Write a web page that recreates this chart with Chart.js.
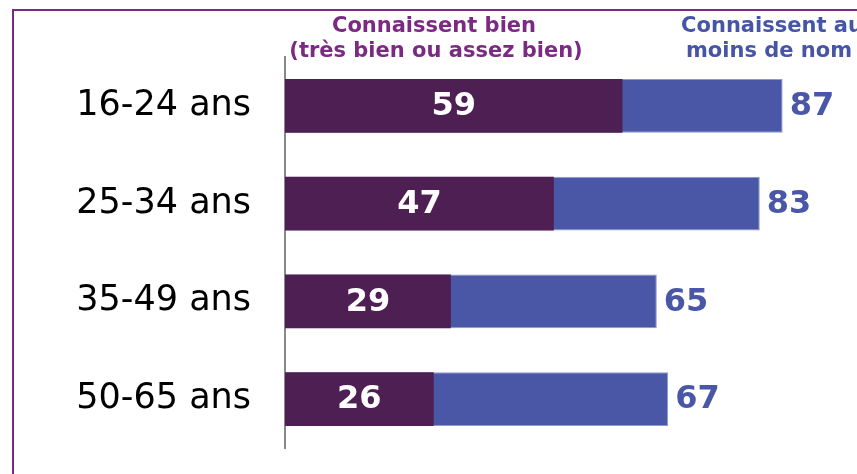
<!DOCTYPE html>
<html><head><meta charset="utf-8">
<script src="https://cdn.jsdelivr.net/npm/chart.js@4"></script>
<style>
html,body{margin:0;padding:0;background:#fff;}
#wrap{position:relative;width:857px;height:474px;overflow:hidden;}
#frame{position:absolute;left:12px;top:9px;width:900px;height:500px;border-left:2px solid #7B2A84;border-top:2px solid #7B2A84;}
canvas{position:absolute;left:0;top:0;}
</style></head>
<body>
<div id="wrap"><div id="frame"></div><canvas id="c" width="857" height="474"></canvas></div>
<script>
const categories = ["16-24 ans","25-34 ans","35-49 ans","50-65 ans"];
const connaissentBien = [59,47,29,26];
const connaissentNom = [87,83,65,67];
const headerBien = ["Connaissent bien","(très bien ou assez bien)"];
const headerNom = ["Connaissent au","moins de nom"];

const PURPLE = "#4E1F52", BLUE = "#4957A6", HEAD_P = "#7B2A84", HEAD_B = "#4655A5";

const labelPlugin = {
  id: "labels",
  afterDatasetsDraw(chart) {
    const ctx = chart.ctx;
    ctx.save();
    ctx.font = "bold 32px 'DejaVu Sans'";
    ctx.textBaseline = "middle";
    const m0 = chart.getDatasetMeta(0), m1 = chart.getDatasetMeta(1);
    m0.data.forEach((b, i) => {
      ctx.fillStyle = "#fff"; ctx.textAlign = "center";
      ctx.fillText(String(connaissentBien[i]), (b.x + b.base) / 2, b.y + 1);
    });
    m1.data.forEach((b, i) => {
      ctx.fillStyle = BLUE; ctx.textAlign = "left";
      ctx.fillText(String(connaissentNom[i]), b.x + 7, b.y + 1);
    });
    // headers
    ctx.font = "bold 21px 'DejaVu Sans'";
    ctx.textAlign = "center";
    ctx.fillStyle = HEAD_P;
    ctx.fillText(headerBien[0], 434, 27);
    ctx.fillText(headerBien[1], 436, 52);
    ctx.fillStyle = HEAD_B;
    ctx.fillText(headerNom[0], 772, 27);
    ctx.fillText(headerNom[1], 769, 52);
    ctx.restore();
  }
};

new Chart(document.getElementById("c"), {
  type: "bar",
  data: {
    labels: categories,
    datasets: [
      { label: headerBien.join(" "), data: connaissentBien, backgroundColor: PURPLE, grouped: false, barPercentage: 0.55, categoryPercentage: 1 },
      { label: headerNom.join(" "), data: connaissentNom, backgroundColor: BLUE, borderColor: "#8e98cc", borderWidth: 1, grouped: false, barPercentage: 0.55, categoryPercentage: 1 }
    ]
  },
  options: {
    indexAxis: "y",
    responsive: false,
    animation: false,
    layout: { padding: { left: 0, right: 0, top: 57, bottom: 26 } },
    plugins: { legend: { display: false }, tooltip: { enabled: false } },
    scales: {
      x: { display: false, min: 0, max: 100 },
      y: {
        grid: { display: false },
        border: { display: true, color: "#888", width: 2 },
        ticks: { color: "#000", font: { family: "'DejaVu Sans'", size: 35 }, padding: 26 },
        afterFit(s) { s.width = 285; s.paddingTop = 0; s.paddingBottom = 0; }
      }
    }
  },
  plugins: [labelPlugin]
});
</script>
</body></html>
